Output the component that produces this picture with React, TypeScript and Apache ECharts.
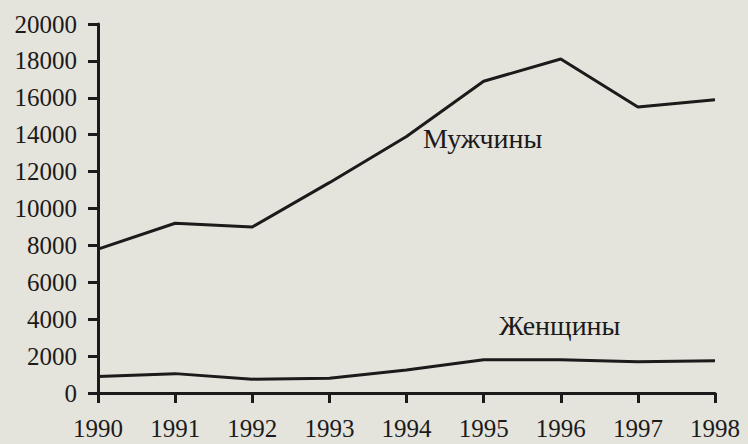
import React, { useEffect, useRef } from "react";
import * as echarts from "echarts";

const years = ["1990", "1991", "1992", "1993", "1994", "1995", "1996", "1997", "1998"];
const men = [7800, 9200, 9000, 11400, 13900, 16900, 18100, 15500, 15900];
const women = [900, 1050, 750, 800, 1250, 1800, 1800, 1700, 1750];
const menLabel = "Мужчины";
const womenLabel = "Женщины";

const INK = "#1c1a1a";
const FONT = "Liberation Serif";

export default function App() {
  const ref = useRef<HTMLDivElement>(null);
  useEffect(() => {
    if (!ref.current) return;
    const chart = echarts.init(ref.current, null, { renderer: "svg" });
    chart.setOption({
      animation: false,
      backgroundColor: "#e4e4dc",
      textStyle: { fontFamily: FONT },
      grid: { left: 98, right: 33, top: 24, bottom: 51, containLabel: false },
      xAxis: {
        type: "category",
        data: years,
        boundaryGap: false,
        axisLine: { lineStyle: { color: INK, width: 3 } },
        axisTick: { show: true, length: 10, lineStyle: { color: INK, width: 3 } },
        axisLabel: { color: INK, fontFamily: FONT, fontSize: 25, margin: 23 },
        splitLine: { show: false },
      },
      yAxis: {
        type: "value",
        min: 0,
        max: 20000,
        interval: 2000,
        axisLine: { show: true, lineStyle: { color: INK, width: 3 } },
        axisTick: { show: true, length: 10, lineStyle: { color: INK, width: 3 } },
        axisLabel: {
          color: INK,
          fontFamily: FONT,
          fontSize: 25,
          margin: 21,
          formatter: (v: number) => String(v),
        },
        splitLine: { show: false },
      },
      series: [
        { type: "line", data: men, symbol: "none", lineStyle: { color: INK, width: 3 } },
        { type: "line", data: women, symbol: "none", lineStyle: { color: INK, width: 3 } },
      ],
      graphic: [
        {
          type: "text",
          left: 423,
          top: 124,
          style: { text: menLabel, fill: INK, fontFamily: FONT, fontSize: 28 },
        },
        {
          type: "text",
          left: 499,
          top: 311,
          style: { text: womenLabel, fill: INK, fontFamily: FONT, fontSize: 28 },
        },
      ],
    });
    return () => chart.dispose();
  }, []);
  return (
    <div
      ref={ref}
      style={{ position: "absolute", left: 0, top: 0, width: 748, height: 444 }}
    />
  );
}
